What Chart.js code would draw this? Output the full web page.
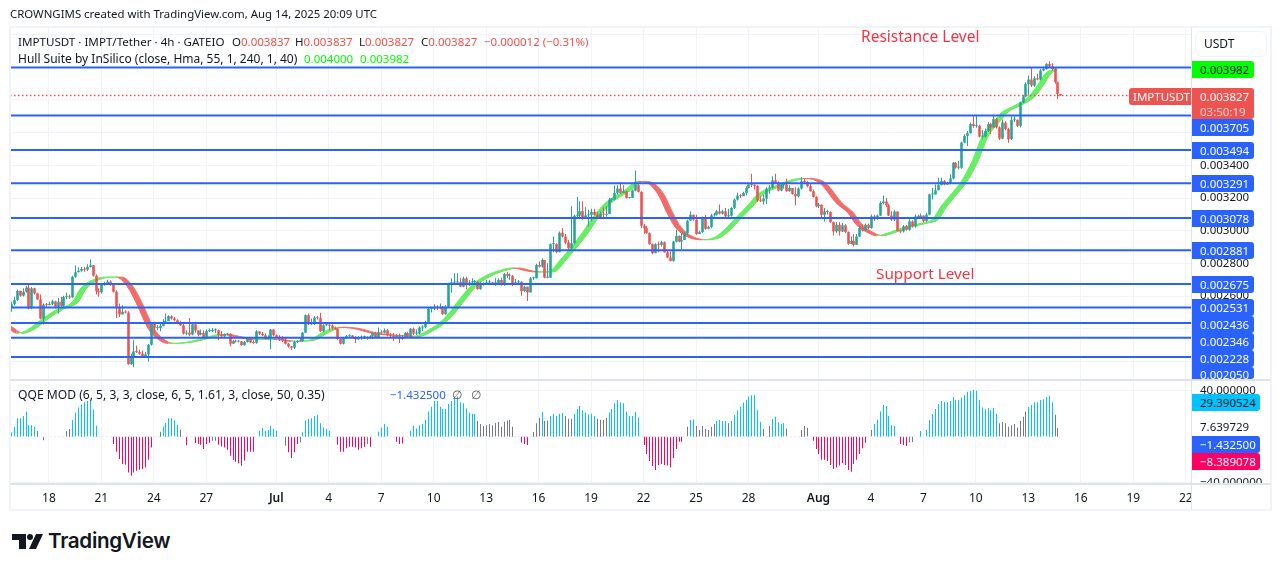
<!DOCTYPE html>
<html><head><meta charset="utf-8">
<script src="https://cdn.jsdelivr.net/npm/chart.js@4"></script>
<style>
html,body{margin:0;padding:0;background:#fff;width:1281px;height:571px;overflow:hidden}
body{font-family:"Noto Sans",sans-serif;color:#131722;position:relative}
canvas{position:absolute;left:0}
.t{position:absolute;white-space:nowrap;font-size:12px;line-height:16px}
.n{font-size:11.5px}
.tag{position:absolute;left:1192px;width:62px;height:17px;line-height:17px;font-size:11.5px;color:#fff;background:#2962ff;border-radius:0 3px 3px 0;padding-left:8px;box-sizing:border-box}
.box{position:absolute;box-sizing:border-box}
</style></head><body>
<canvas id="price" width="1281" height="380" style="top:0"></canvas>
<canvas id="qqe" width="1281" height="130" style="top:380px"></canvas>
<div class="box" style="left:9px;top:26px;width:1263px;height:485px;border:2px solid #f0f3fa"></div>
<div class="box" style="left:10px;top:379px;width:1261px;height:2px;background:#e0e3eb"></div>
<div class="box" style="left:10px;top:483px;width:1261px;height:2px;background:#e0e3eb"></div>
<div class="box" style="left:1191px;top:27px;width:1px;height:482px;background:#e0e3eb"></div>
<div class="box" style="left:1192px;top:485px;width:78px;height:24px;background:#fff"></div>
<div class="t" style="left:10px;top:6px;font-size:11.42px">CROWNGIMS created with TradingView.com, Aug 14, 2025 20:09 UTC</div>
<div class="t" style="left:18px;top:34px;font-size:11.6px">IMPTUSDT · IMPT/Tether · 4h · GATEIO</div>
<div class="t n" style="left:232px;top:34px">O<span style="color:#ef5350">0.003837</span></div>
<div class="t n" style="left:295px;top:34px">H<span style="color:#ef5350">0.003837</span></div>
<div class="t n" style="left:359px;top:34px">L<span style="color:#ef5350">0.003827</span></div>
<div class="t n" style="left:421px;top:34px">C<span style="color:#ef5350">0.003827</span></div>
<div class="t n" style="left:484px;top:34px;color:#ef5350">−0.000012 (−0.31%)</div>
<div class="t" style="left:18px;top:51px;font-size:12px">Hull Suite by InSilico (close, Hma, 55, 1, 240, 1, 40)</div>
<div class="t n" style="left:304px;top:51px;color:#00ff00">0.004000</div>
<div class="t n" style="left:360px;top:51px;color:#00ff00">0.003982</div>
<div class="t" style="left:18px;top:387px;font-size:12.1px">QQE MOD (6, 5, 3, 3, close, 6, 5, 1.61, 3, close, 50, 0.35)</div>
<div class="t n" style="left:390px;top:387px;color:#2962ff">−1.432500</div>
<div class="t" style="left:452px;top:387px;color:#555">∅</div>
<div class="t" style="left:471px;top:387px;color:#555">∅</div>
<div class="t" style="left:861px;top:26px;font-size:15.5px;line-height:20px;color:#f23645">Resistance Level</div>
<div class="t" style="left:876px;top:263px;font-size:15.3px;line-height:20px;color:#f23645">Support Level</div>

<div class="box" style="left:1195px;top:31px;width:72px;height:26px;background:#fff;border:1px solid #f0f3fa;border-radius:6px"></div>
<div class="t" style="left:1204px;top:36px">USDT</div>
<div class="tag" style="top:61px;background:#00ff00;color:#131722">0.003982</div>
<div class="box" style="left:1129px;top:88px;width:62px;height:17px;background:#ef5350;border-radius:3px 0 0 3px"></div>
<div class="t" style="left:1133px;top:89px;color:#fff;font-size:11.5px">IMPTUSDT</div>
<div class="tag" style="top:88px;height:31px;background:#ef5350">0.003827<div style="color:#fbd5d5;line-height:13px">03:50:19</div></div>
<div class="tag" style="top:119px">0.003705</div>
<div class="tag" style="top:142px">0.003494</div>
<div class="tag" style="top:175px">0.003291</div>
<div class="tag" style="top:210px">0.003078</div>
<div class="tag" style="top:242px">0.002881</div>
<div class="tag" style="top:276px">0.002675</div>
<div class="tag" style="top:299px">0.002531</div>
<div class="tag" style="top:316px">0.002436</div>
<div class="tag" style="top:333px">0.002346</div>
<div class="tag" style="top:350px">0.002228</div>
<div class="tag" style="top:367px;height:12px;line-height:15px;overflow:hidden">0.002050</div>
<div class="tag" style="top:394px;width:68px;background:#00c3ff;color:#131722">29.390524</div>
<div class="t n" style="left:1200px;top:419px">7.639729</div>
<div class="tag" style="top:436px;width:68px">−1.432500</div>
<div class="tag" style="top:453px;width:68px;background:#ff0062">−8.389078</div>

<svg class="box" style="left:12px;top:534px" width="31" height="16" viewBox="0 0 31 16"><path fill="#131722" d="M0 0h14v15H7V6H0z"/><circle cx="18" cy="3" r="3" fill="#131722"/><path fill="#131722" d="M24 0h7l-7 15h-7z"/></svg>
<div class="t" style="left:48px;top:528px;font:600 20.6px/26px Inter,sans-serif;letter-spacing:-.3px">TradingView</div>
<script>
/* Prices in millionths of USDT, one entry per 4h bar */
const firstOpen = 2535;
const closes = [2551,2576,2633,2603,2627,2652,2525,2648,2617,2580,2463,2549,2545,2553,2568,2535,2566,2541,2596,2596,2592,2719,2746,2756,2766,2762,2779,2789,2725,2631,2623,2668,2678,2689,2672,2627,2535,2488,2504,2500,2184,2227,2262,2258,2248,2231,2244,2303,2432,2406,2406,2418,2443,2447,2477,2463,2453,2432,2422,2371,2377,2365,2428,2391,
2365,2375,2350,2387,2387,2391,2391,2365,2355,2365,2371,2309,2326,2322,2324,2301,2320,2342,2316,2314,2385,2371,2361,2340,2350,2396,2361,2350,2346,2334,2309,2293,2285,2320,2326,2324,2377,2484,2428,2428,2469,2465,2385,2422,2424,2420,2406,2400,2338,2309,2346,2355,2359,2350,2336,2346,2350,2350,2344,2355,2375,2350,2379,2377,2391,2361,2355,2350,2355,2340,2350,2375,2355,2400,2371,2371,2408,2412,2441,2523,
2525,2530,2527,2533,2490,2535,2677,2684,2684,2688,2658,2709,2668,2684,2688,2688,2643,2672,2676,2684,2684,2678,2678,2699,2668,2736,2725,2725,2674,2684,2688,2631,2658,2623,2709,2709,2791,2781,2822,2713,2713,2918,2918,2869,2988,2965,2928,2893,2924,3092,3092,3120,3078,3094,3098,3115,3098,3078,3103,3098,3103,3191,3191,3232,3258,3232,3242,3201,3201,3246,3279,3238,3031,
3016,2986,2918,2863,2918,2914,2930,2869,2836,2816,2934,2969,2934,2943,2986,3062,3098,3068,2980,2992,3078,3012,3023,3094,3098,3119,3105,3119,3088,3092,3140,3191,3215,3211,3232,3262,3283,3279,3275,3185,3180,3197,3258,3262,3308,3293,3246,3279,3283,3242,3262,3225,3211,3258,3303,3299,3273,3242,3207,3150,3160,3098,3119,3115,3053,2996,3037,2996,3033,2992,2920,2939,2914,2965,3017,
3002,3037,3017,3088,3072,3093,3170,3179,3156,3093,3068,3117,2999,2996,3027,3006,3058,3027,3088,3084,3093,3058,3099,3222,3222,3248,3279,3304,3283,3289,3320,3416,3386,3386,3540,3580,3597,3652,3640,3642,3576,3576,3611,3652,3632,3683,3632,3564,3662,3622,3560,3679,3679,3642,3786,3822,3898,3925,3888,3933,3925,3980,3990,4021,4005,3990,3909,3837,3827];
const highs = [2566,2596,2641,2633,2648,2662,2668,2656,2652,2621,2611,2555,2559,2566,2578,2572,2590,2596,2603,2623,2611,2725,2787,2775,2779,2779,2795,2826,2791,2734,2648,2678,2689,2701,2697,2678,2637,2555,2545,2514,2508,2248,2330,2299,2272,2268,2258,2307,2436,2443,2422,2432,2459,2494,2484,2484,2473,2459,2449,2432,2391,2467,2436,2443,
2387,2396,2391,2396,2402,2406,2402,2396,2387,2371,2375,2371,2334,2334,2330,2326,2326,2350,2346,2330,2391,2381,2381,2371,2361,2400,2398,2365,2361,2355,2344,2314,2295,2326,2330,2350,2381,2488,2494,2463,2478,2478,2498,2428,2432,2428,2428,2415,2404,2342,2350,2363,2367,2363,2355,2355,2359,2359,2355,2361,2381,2383,2408,2391,2402,2400,2375,2375,2367,2371,2361,2381,2383,2406,2408,2396,2416,2422,2449,2527,
2535,2550,2545,2555,2540,2545,2682,2709,2740,2740,2713,2719,2719,2699,2709,2699,2692,2688,2684,2699,2699,2688,2709,2709,2713,2742,2750,2738,2730,2705,2699,2692,2664,2658,2717,2719,2799,2812,2832,2822,2801,2922,2965,2924,2996,3017,2980,2945,3150,3098,3207,3180,3180,3144,3129,3135,3135,3113,3119,3144,3150,3201,3201,3277,3279,3299,3279,3246,3205,3252,3369,3293,3242,
3041,3031,2990,2922,2924,2934,2939,2934,2877,2873,2939,3006,2971,2990,2996,3068,3119,3098,3098,3000,3088,3098,3031,3103,3109,3129,3160,3129,3140,3135,3144,3197,3232,3226,3238,3273,3293,3349,3293,3279,3211,3222,3267,3279,3334,3349,3303,3293,3293,3320,3279,3262,3267,3267,3328,3320,3303,3287,3252,3211,3170,3160,3140,3129,3119,3057,3053,3053,3047,3041,2996,2965,2980,2980,3030,
3040,3045,3045,3100,3098,3100,3180,3216,3201,3166,3120,3125,3120,3010,3035,3035,3070,3065,3100,3098,3105,3095,3110,3226,3263,3283,3324,3325,3310,3300,3345,3420,3420,3427,3545,3590,3610,3662,3708,3708,3650,3617,3625,3665,3660,3710,3690,3640,3680,3670,3630,3703,3700,3680,3790,3830,3908,3950,4001,3945,3960,3990,4005,4025,4037,4025,3995,3913,3837];
const lows = [2504,2541,2572,2596,2598,2623,2520,2520,2611,2576,2459,2426,2529,2545,2545,2525,2494,2535,2535,2582,2582,2590,2713,2746,2746,2750,2754,2775,2721,2611,2596,2617,2664,2668,2664,2623,2467,2473,2490,2494,2180,2180,2166,2252,2242,2227,2227,2201,2299,2371,2391,2385,2414,2432,2449,2457,2447,2428,2418,2365,2361,2356,2361,2377,
2355,2361,2345,2340,2381,2381,2375,2330,2350,2350,2361,2293,2309,2316,2316,2297,2297,2316,2312,2309,2309,2363,2355,2334,2334,2275,2355,2346,2326,2320,2305,2285,2271,2277,2314,2320,2322,2375,2424,2422,2424,2457,2381,2381,2416,2391,2396,2394,2334,2305,2305,2340,2346,2342,2314,2334,2334,2338,2334,2340,2338,2346,2346,2367,2371,2355,2346,2326,2346,2314,2334,2346,2350,2350,2363,2363,2367,2387,2404,2437,
2500,2515,2515,2520,2485,2487,2530,2621,2668,2672,2654,2654,2643,2664,2668,2672,2639,2639,2664,2668,2668,2668,2664,2668,2664,2664,2709,2699,2660,2672,2672,2602,2627,2570,2623,2699,2709,2775,2775,2709,2709,2713,2869,2863,2869,2959,2918,2881,2889,2918,3078,3078,3068,3074,3027,3058,3094,3074,3078,3078,3088,3115,3176,3185,3222,3226,3232,3197,3197,3201,3242,3234,3016,
2982,2982,2914,2857,2863,2869,2904,2865,2832,2812,2811,2930,2930,2889,2943,2976,3062,3062,2976,2980,2988,3006,3010,3016,3088,3094,3099,3099,3084,3084,3088,3133,3185,3201,3217,3217,3258,3267,3252,3176,3176,3160,3164,3226,3258,3287,3242,3242,3258,3238,3238,3221,3156,3205,3252,3287,3267,3238,3203,3144,3140,3082,3057,3099,3047,2971,2986,2971,2992,2986,2914,2918,2904,2914,2960,
2996,3000,3010,3012,3060,3068,3090,3160,3145,3090,3060,3060,2995,2985,2990,3000,3000,3020,3020,3075,3082,3052,3055,3095,3191,3222,3248,3279,3278,3280,3285,3315,3380,3375,3380,3535,3519,3595,3630,3630,3570,3564,3570,3605,3591,3630,3625,3555,3560,3615,3539,3555,3665,3635,3632,3780,3816,3826,3880,3880,3920,3920,3975,3985,3995,3980,3900,3806,3827];

/* Hull ribbon: bar number and mid-price read at irregular bars */
const hullBars = [0,3,7,12,17,22,25,29,34,37,41,44,48,51,55,61,68,73,79,84,91,97,103,108,113,118,125,132,139,144,149,152,156,159,163,168,173,178,181,185,190,193,197,200,205,211,216,219,223,226,229,233,238,242,245,250,254,257,262,267,272,276,279,284,288,291,295,298,303,308,314,317,320,324,327,331,334,338,341,345,350,353,356,359];
const hullPrices = [2404,2373,2398,2465,2521,2564,2650,2699,2717,2717,2656,2557,2404,2342,2311,2318,2348,2367,2348,2336,2336,2324,2330,2379,2410,2404,2373,2361,2354,2391,2453,2514,2607,2668,2717,2754,2773,2754,2748,2748,2834,2896,2988,3068,3172,3240,3302,3295,3222,3111,3019,2963,2945,2957,2994,3086,3160,3222,3265,3302,3320,3314,3283,3172,3111,3037,2988,2970,2994,3025,3049,3068,3148,3234,3302,3437,3572,3664,3726,3763,3818,3886,3966,3990];
const hullLast = [4000,3982];

const levels = [3998,3705,3494,3291,3078,2881,2675,2531,2436,2346,2228];
const lastPrice = 3827;
const priceTicks = [2200,2400,2600,2800,3000,3200,3400,3600,3800,4000,4200];

const timeTickBars = [13,31,49,67,91,109,127,145,163,181,199,217,235,253,277,295,313,331,349,367,385,403];
const timeTickLabels = ["18","21","24","27","Jul","4","7","10","13","16","19","22","25","28","Aug","4","7","10","13","16","19","22"];

const qqeValues = [3.8,8.7,16,16,18,22,10,10,8.7,5,
0,-3,0,0,0,0,0,0,0,5,
6.7,14.5,21,25.5,28,30,31,32,23.5,9.6,
0,0,0,0,0,-6.4,-13,-19.4,-23.8,-24.3,
-31,-34,-31,-29.5,-28.7,-28,-26.7,-20,-9.3,0,
0,4.3,8.7,12,16,16,14,10.4,6,0,
-7.5,0,0,-5.5,-6.4,-7,-10.7,-6.4,-5.2,-3.5,
-3.5,-7,-8.4,-9.3,-11.3,-16.5,-20.3,-21.7,-23,-25.2,
-20.9,-13,-13,-13,0,5.2,7.5,5.2,5.8,9.6,
6.7,5.2,0,0,-7.8,-13.6,-18.6,-13.6,-6.4,-5,
3.8,14,15.4,16,18,19,11.6,8,6.7,5.2,
0,0,-7,-13,-13,-10,-8.7,-8.7,-9.3,-11.3,
-10,-8.7,-6.4,-8.7,0,0,4.3,8,11,8.7,
0,0,-4.3,-6.4,-5.8,0,0,5.2,9.6,7.2,
10,11,14.8,22,26,31,31,26,24,24,
28.4,31,34,35,30,29,24.6,21,20,19.7,
13.6,11,9.3,10,11,10,12,12.8,8.7,13,
14,14.5,8.7,0,0,-5,-6.4,-7.2,0,4,
11.6,16.5,21.4,13.6,14,18,20,18,20,20.6,
18,15.6,15.6,19.7,24,26.7,23,21,19.4,20,
18,15.6,14.8,14.5,16.5,21,24,29,32,30,
29,22,18,18,21.4,16.8,0,-7.2,-15,-21,
-25.5,-29,-24.6,-23.8,-24.6,-25,-26.7,-18.8,-10.7,-4.3,
-4.3,0,8.7,14.5,15,9.3,5.8,9.3,6.7,5.8,
8.7,11,13.6,14.5,13.6,13.6,11.6,13.6,18.8,23,
26,29.6,32,35,36,36,23,13,6.7,0,
9.3,15.4,17.4,12.5,11,12,7.2,0,0,0,
0,5.8,9.3,7.8,0,-3.5,-10.7,-15,-20,-20,
-21,-24.6,-28,-26.7,-25,-23,-24.6,-29,-30.4,-23.8,
-20,-15,-10,-5.2,0,5.8,11,15,22,27.5,
26.7,18,10,9.3,0,-6.4,-7.2,-8,-5,-4.6,
0,0,5,0,5.8,14.5,19.7,24,28.4,31,
30.4,30,31,34.5,32,32,34,36,39,40,
40.6,40,32,25.5,23.8,25,23,25,20,11.6,
12.8,11.6,8.7,9.9,11,8,13.6,17.4,22,25.8,
27.5,30,30,32,32.5,34.5,35.4,30,19,7.64];
const qqeGrayBars = [9,11,19,20,51,58,69,70,94,99,122,160,161,162,163,164,165,166,167,168,169,170,171,172,179,180,181,183,184,190,191,192,201,202,203,204,232,235,236,237,238,239,240,241,246,258,260,266,271,272,273,295,308,309,339,340,341,342,343,344,345,346,347,348,358,359];
const qqeTicks = [-40,40];

const FONT = '"Noto Sans",sans-serif';
const UP='#26a69a', DOWN='#ef5350', BLUE='#2962ff', GRID='#f0f3fa', TEXT='#131722';
const XMIN=-0.34, XMAX=404.8;
const M = v => v/1e6;
const opens = closes.map((c,i)=> i? closes[i-1] : firstOpen);
const candleColor = closes.map((c,i)=> c>=opens[i] ? UP : DOWN);
const noPad = s => {s.paddingLeft=0;s.paddingRight=0;s.paddingTop=0;s.paddingBottom=0};
const xAxis = (showTicks,height)=>({
  type:'linear',min:XMIN,max:XMAX,offset:false,
  afterBuildTicks:s=>{s.ticks=timeTickBars.map(v=>({value:v}))},
  afterFit:s=>{s.height=height;noPad(s)},
  border:{display:false},
  grid:{color:GRID,drawTicks:false,lineWidth:1,offset:false},
  ticks:{display:showTicks,autoSkip:false,maxRotation:0,padding:7,color:TEXT,
    callback:v=>timeTickLabels[timeTickBars.indexOf(v)],
    font:c=>({family:FONT,size:12,weight:(c.tick&&/[A-Z]/.test(c.tick.label||''))?'600':'400'})}
});
/* centre every bar on a whole pixel column so thin wicks stay crisp */
const crispBars={id:'crispBars',afterDatasetsUpdate(chart){
  chart.getSortedVisibleDatasetMetas().forEach(m=>{
    if(m.type==='bar') m.data.forEach(el=>{el.x=Math.round(el.x)+.5});
  });
}};

const ribbonUp='#63f063', ribbonDown='#f46a6a';
const ribbonSeg={borderColor:c=>c.p1.parsed.y>=c.p0.parsed.y?ribbonUp:ribbonDown};
const hullLead = hullBars.map((b,i)=>({x:b-1,y:M(hullPrices[i])}));
hullLead.push({x:359,y:M(hullLast[0])});
const hullLag = [{x:0,y:M(hullPrices[0]+12)}].concat(
  hullBars.map((b,i)=>({x:b+1,y:M(hullPrices[i])})).filter(p=>p.x<359));
hullLag.push({x:359,y:M(hullLast[1])});

new Chart(document.getElementById('price'),{
  type:'bar',plugins:[crispBars],
  data:{datasets:[
    ...levels.map(l=>({type:'line',order:0,data:[{x:XMIN,y:M(l)},{x:XMAX,y:M(l)}],borderColor:BLUE,borderWidth:2,pointRadius:0})),
    {type:'line',order:1,data:[{x:XMIN,y:M(lastPrice)},{x:XMAX,y:M(lastPrice)}],borderColor:DOWN,borderWidth:1.4,borderDash:[1.5,2.5],pointRadius:0},
    {type:'bar',order:2,grouped:false,barThickness:2.6,inflateAmount:0,minBarLength:1,data:closes.map((c,i)=>({x:i,y:[M(opens[i]),M(c)]})),backgroundColor:candleColor},
    {type:'bar',order:3,grouped:false,barThickness:1,inflateAmount:0,data:closes.map((c,i)=>({x:i,y:[M(lows[i]),M(highs[i])]})),backgroundColor:candleColor},
    {type:'line',order:4,data:hullLead,cubicInterpolationMode:'monotone',pointRadius:0,borderWidth:1,borderColor:ribbonUp,segment:ribbonSeg,
      fill:{target:'+1',above:ribbonUp,below:ribbonDown}},
    {type:'line',order:5,data:hullLag,cubicInterpolationMode:'monotone',pointRadius:0,borderWidth:1,borderColor:ribbonUp,segment:ribbonSeg}
  ]},
  options:{responsive:false,animation:false,devicePixelRatio:1,
    layout:{padding:{left:10,right:10,top:27,bottom:0}},
    plugins:{legend:{display:false},tooltip:{enabled:false},filler:{drawTime:'beforeDatasetDraw'}},
    scales:{
      x:xAxis(false,0),
      y:{type:'linear',position:'right',min:M(2087.3),max:M(4246.4),
        afterBuildTicks:s=>{s.ticks=priceTicks.map(v=>({value:M(v)}))},
        afterFit:s=>{s.width=80;noPad(s)},
        border:{display:false},
        grid:{color:GRID,drawTicks:false},
        ticks:{padding:9,color:TEXT,font:{family:FONT,size:11.5},callback:v=>v>0.00399?'':v.toFixed(6)}}
    }}
});

new Chart(document.getElementById('qqe'),{
  type:'bar',plugins:[crispBars],
  data:{datasets:[
    {type:'line',order:0,data:[{x:XMIN,y:0},{x:359,y:0}],borderColor:'#e6e8ee',borderWidth:1,borderDash:[2,2],pointRadius:0},
    {type:'bar',order:1,barThickness:1,inflateAmount:0,grouped:false,data:qqeValues.map((v,i)=>({x:i,y:v})),
     backgroundColor:qqeValues.map((v,i)=>qqeGrayBars.includes(i)?'#787b86':(v>0?'#00c3ff':'#ff0062'))}
  ]},
  options:{responsive:false,animation:false,devicePixelRatio:1,
    layout:{padding:{left:10,right:10,top:0,bottom:0}},
    plugins:{legend:{display:false},tooltip:{enabled:false}},
    scales:{
      x:xAxis(true,26),
      y:{type:'linear',position:'right',min:-41.1,max:49.3,
        afterBuildTicks:s=>{s.ticks=qqeTicks.map(v=>({value:v}))},
        afterFit:s=>{s.width=80;noPad(s)},
        border:{display:false},
        grid:{color:GRID,drawTicks:false},
        ticks:{padding:9,color:TEXT,font:{family:FONT,size:11.5},callback:v=>(v<0?'−':'')+Math.abs(v).toFixed(6)}}
    }}
});
</script>
</body></html>
